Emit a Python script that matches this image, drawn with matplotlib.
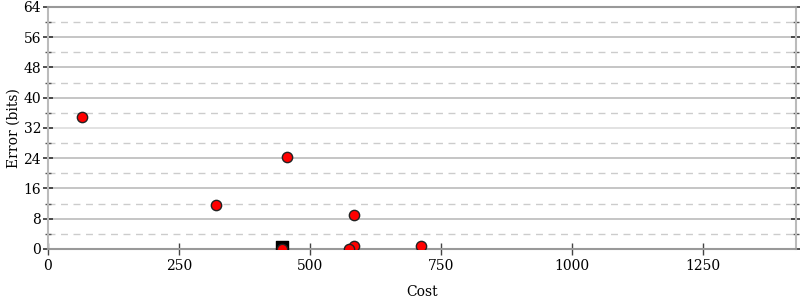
import matplotlib
matplotlib.use("Agg")
import matplotlib.pyplot as plt
import numpy as np

plt.rcParams['font.family'] = ['DejaVu Serif']

# data
red_cost = [65, 320, 456, 584, 584, 574, 712, 447]
red_err = [35, 11.7, 24.3, 9.0, 0.8, 0.0, 0.8, 0.0]
sq_cost = [447]
sq_err = [0.4]

xticks = [0, 250, 500, 750, 1000, 1250]
yticks = [0, 8, 16, 24, 32, 40, 48, 56, 64]
yminor = [4, 12, 20, 28, 36, 44, 52, 60]

fig = plt.figure(figsize=(8, 3), dpi=100)
ax = fig.add_axes([0.06, 0.17, 0.935, 0.807])

ax.set_xlim(0, 1427)
ax.set_ylim(0, 64)

for y in yticks[1:-1]:
    col = '#dddddd' if y == 32 else '#bbbbbb'
    ax.axhline(y, color=col, lw=1.2, zorder=0)
for y in yminor:
    ax.axhline(y, color='#cccccc', lw=1, ls=(0, (5, 4)), zorder=0)

ax.scatter(sq_cost, sq_err, marker='s', s=80, c='black', zorder=3, clip_on=True)
ax.scatter(red_cost, red_err, marker='o', s=55, c='#ff0000', edgecolors='#222222',
           linewidths=1, zorder=4, clip_on=True)

ax.set_xticks(xticks)
ax.set_yticks(yticks)
ax.set_yticks(yminor, minor=True)
ax.tick_params(axis='x', direction='inout', length=8, width=1, color='#444444',
               labelsize=10, pad=3)
ax.tick_params(axis='y', which='major', direction='inout', length=7, width=1.2,
               color='#333333', labelsize=10, pad=1.5, right=True)
ax.tick_params(axis='y', which='minor', direction='inout', length=4, width=1,
               color='#555555', right=True)

for s in ['top', 'bottom']:
    ax.spines[s].set_color('#999999')
    ax.spines[s].set_linewidth(1.5)
for s in ['left', 'right']:
    ax.spines[s].set_color('#bbbbbb')
    ax.spines[s].set_linewidth(1.5)

ax.set_xlabel('Cost', fontsize=10, labelpad=9)
ax.set_ylabel('Error (bits)', fontsize=10, labelpad=2)

fig.savefig('out.png', dpi=100)
